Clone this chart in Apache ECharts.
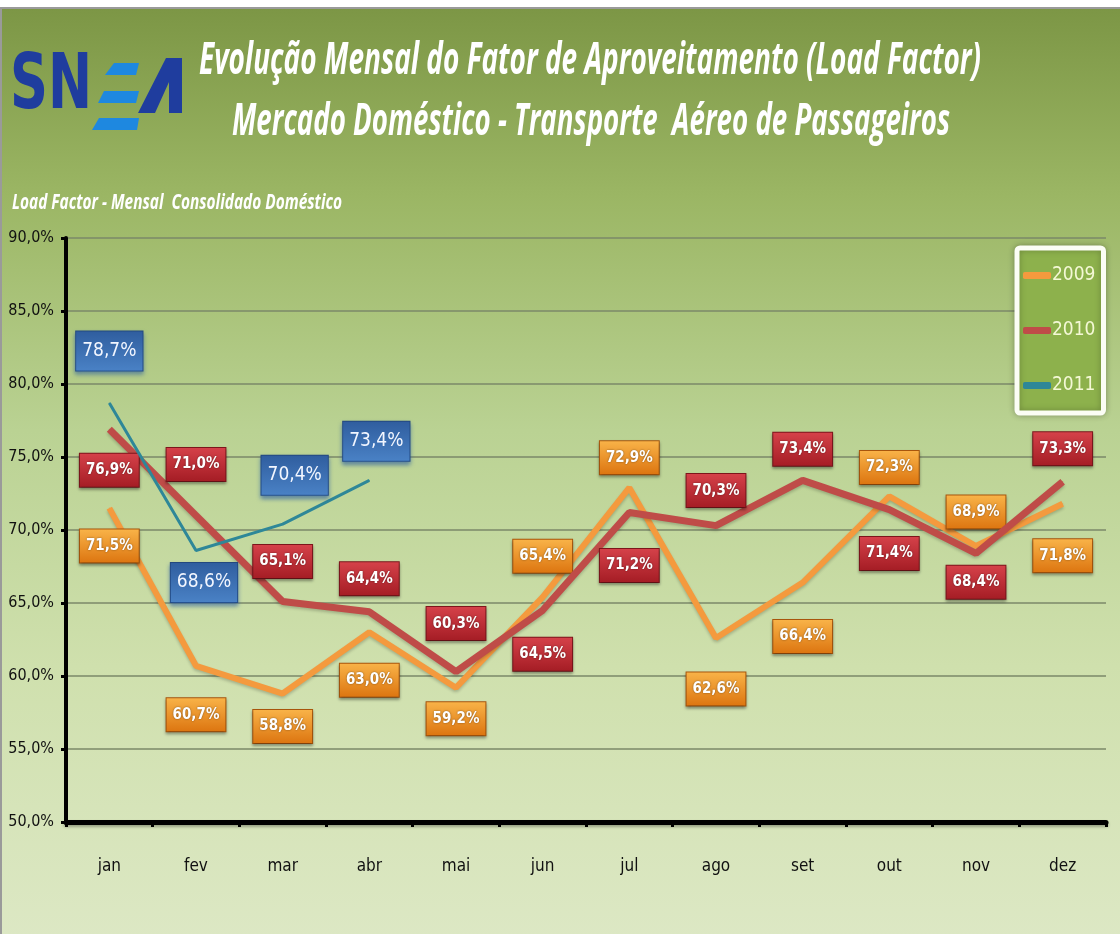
<!DOCTYPE html>
<html>
<head>
<meta charset="utf-8">
<script src="https://cdn.jsdelivr.net/npm/echarts@6/dist/echarts.min.js"></script>
<style>
html, body { margin: 0; padding: 0; background: #fff; }
#main { width: 1120px; height: 934px; }
</style>
</head>
<body>
<div id="main"></div>
<script>
var months = ['jan', 'fev', 'mar', 'abr', 'mai', 'jun', 'jul', 'ago', 'set', 'out', 'nov', 'dez'];
var lf2009 = [71.5, 60.7, 58.8, 63.0, 59.2, 65.4, 72.9, 62.6, 66.4, 72.3, 68.9, 71.8];
var lf2010 = [76.9, 71.0, 65.1, 64.4, 60.3, 64.5, 71.2, 70.3, 73.4, 71.4, 68.4, 73.3];
var lf2011 = [78.7, 68.6, 70.4, 73.4];
var yMin = 50, yMax = 90, yStep = 5;

// vertical offset of each value box from its point (style only)
var dy2009 = [38, 49, 33, 48, 31, -41, -30, 51, 54, -29, -34, 52];
var dy2010 = [41, -51, -40, -33, -48, 44, 53, -35, -31, 44, 29, -33];
var dy2011 = [-52, 32, -49, -39];
var dx2011 = [0, 8, 12, 7];

var narrow = '"Liberation Sans Narrow", "DejaVu Sans Condensed", Roboto, sans-serif';

function pct(v) { return v.toFixed(1).replace('.', ',') + '%'; }

function fitScale(text, font, width) {
    var ctx = document.createElement('canvas').getContext('2d');
    ctx.font = font;
    return width / ctx.measureText(text).width;
}

var title1 = 'Evolução Mensal do Fator de Aproveitamento (Load Factor)';
var title2 = 'Mercado Doméstico - Transporte  Aéreo de Passageiros';
var subTitle = 'Load Factor - Mensal  Consolidado Doméstico';
var tFont = 'italic bold 44px "Open Sans"';
var sFont = 'italic bold 21px "Open Sans"';
var logoFont = 'bold 76px "DejaVu Sans"';

function grad(c1, c2) {
    return new echarts.graphic.LinearGradient(0, 0, 0, 1, [
        { offset: 0, color: c1 }, { offset: 1, color: c2 }
    ]);
}

function boxLabel(kind) {
    if (kind === 2011) {
        return {
            show: true, position: 'inside', formatter: function (p) { return pct(p.value); },
            color: '#f2f6ff', fontSize: 19, fontFamily: narrow,
            backgroundColor: grad('#2f5d9e', '#4a82c6'),
            borderColor: '#23487e', borderWidth: 1, padding: [10, 6],
            shadowColor: 'rgba(40,90,160,0.6)', shadowBlur: 4, shadowOffsetY: 3
        };
    }
    var orange = kind === 2009;
    return {
        show: true, position: 'inside', formatter: function (p) { return pct(p.value); },
        color: '#fff', fontSize: 15, fontWeight: 'bold', fontFamily: narrow,
        textShadowColor: 'rgba(0,0,0,0.5)', textShadowBlur: 2,
        backgroundColor: orange ? grad('#f9b449', '#dc740f') : grad('#d6424a', '#a41c24'),
        borderColor: orange ? '#a9560c' : '#7e151b', borderWidth: 1, padding: [9, 6],
        shadowColor: 'rgba(0,0,0,0.35)', shadowBlur: 3, shadowOffsetY: 2
    };
}

function points(vals, dy, dx) {
    return vals.map(function (v, i) {
        return { value: v, label: { offset: [dx ? dx[i] : 0, dy[i]] } };
    });
}

var myChart = echarts.init(document.getElementById('main'));

var option = {
    animation: false,
    backgroundColor: '#fff',
    graphic: [
        {
            type: 'rect', z: -10, silent: true,
            shape: { x: 1, y: 8, width: 1130, height: 940 },
            style: {
                fill: new echarts.graphic.LinearGradient(0, 0, 0, 1, [
                    { offset: 0, color: '#7c9645' },
                    { offset: 0.2, color: '#9bb664' },
                    { offset: 0.45, color: '#bad293' },
                    { offset: 0.7, color: '#cfe0ad' },
                    { offset: 1, color: '#dde8c5' }
                ]),
                stroke: '#9a9a9a', lineWidth: 2
            }
        },
        {
            type: 'text', x: 590, y: 61, scaleX: fitScale(title1, tFont, 782),
            style: {
                text: title1, font: tFont, fill: '#fff', align: 'center', verticalAlign: 'middle',
                shadowColor: 'rgba(0,0,0,0.55)', shadowBlur: 3, shadowOffsetX: 2, shadowOffsetY: 2
            }
        },
        {
            type: 'text', x: 591, y: 122, scaleX: fitScale(title2, tFont, 718),
            style: {
                text: title2, font: tFont, fill: '#fff', align: 'center', verticalAlign: 'middle',
                shadowColor: 'rgba(0,0,0,0.55)', shadowBlur: 3, shadowOffsetX: 2, shadowOffsetY: 2
            }
        },
        {
            type: 'text', x: 12, y: 203, scaleX: fitScale(subTitle, sFont, 330),
            style: {
                text: subTitle, font: sFont, fill: '#fff', align: 'left', verticalAlign: 'middle',
                shadowColor: 'rgba(0,0,0,0.4)', shadowBlur: 2, shadowOffsetX: 1, shadowOffsetY: 1
            }
        },
        {
            type: 'text', x: 10, y: 88, scaleX: fitScale('SN', logoFont, 82),
            style: { text: 'SN', font: logoFont, fill: '#1f3d9e', align: 'left', verticalAlign: 'middle' }
        },
        { type: 'polygon', shape: { points: [[114, 63], [139, 63], [136, 75], [105, 75]] }, style: { fill: '#1e88e0' } },
        { type: 'polygon', shape: { points: [[104, 91], [139, 91], [136, 103], [98, 103]] }, style: { fill: '#1e88e0' } },
        { type: 'polygon', shape: { points: [[99, 118], [139, 118], [137, 130], [92, 130]] }, style: { fill: '#1e88e0' } },
        { type: 'polygon', shape: { points: [[138, 113], [166, 58], [182, 58], [182, 113], [169, 113], [169, 82], [155, 113]] }, style: { fill: '#1f3d9e' } }
    ],
    grid: { left: 66, right: 14, top: 238, bottom: 112 },
    legend: {
        data: ['2009', '2010', '2011'],
        orient: 'vertical',
        left: 1017, top: 248,
        backgroundColor: '#8db14c',
        borderColor: '#fbfdf5', borderWidth: 5, borderRadius: 3,
        padding: [18, 8, 18, 6],
        itemGap: 36, itemWidth: 28, itemHeight: 7,
        icon: 'roundRect',
        shadowColor: 'rgba(0,0,0,0.25)', shadowBlur: 6,
        textStyle: { color: '#f4f8d6', fontSize: 19, fontFamily: narrow, padding: [0, 0, 0, -4] }
    },
    xAxis: {
        type: 'category',
        data: months,
        boundaryGap: true,
        axisLine: { lineStyle: { color: '#000', width: 5, shadowColor: 'rgba(0,0,0,0.3)', shadowBlur: 3, shadowOffsetY: 2 } },
        axisTick: { show: true, interval: 0, length: 5, lineStyle: { color: '#000', width: 3 } },
        axisLabel: { margin: 36, color: '#111', fontSize: 17, fontFamily: narrow }
    },
    yAxis: {
        type: 'value',
        min: yMin, max: yMax, interval: yStep,
        axisLine: { show: true, lineStyle: { color: '#000', width: 4 } },
        axisTick: { show: true, length: 5, lineStyle: { color: '#000', width: 3 } },
        axisLabel: { margin: 12, color: '#111', fontSize: 16, fontFamily: narrow, formatter: pct },
        splitLine: { lineStyle: { color: '#7b8868', width: 1.5 } }
    },
    series: [
        {
            name: '2009', type: 'line', symbol: 'circle', symbolSize: 1, color: '#f49a3e', z: 3,
            lineStyle: { width: 6, shadowColor: 'rgba(0,0,0,0.2)', shadowBlur: 3, shadowOffsetY: 2 },
            label: boxLabel(2009),
            data: points(lf2009, dy2009)
        },
        {
            name: '2010', type: 'line', symbol: 'circle', symbolSize: 1, color: '#bf4c48', z: 4,
            lineStyle: { width: 7, shadowColor: 'rgba(0,0,0,0.2)', shadowBlur: 3, shadowOffsetY: 2 },
            label: boxLabel(2010),
            data: points(lf2010, dy2010)
        },
        {
            name: '2011', type: 'line', symbol: 'circle', symbolSize: 1, color: '#2e8798', z: 5,
            lineStyle: { width: 3 },
            label: boxLabel(2011),
            data: points(lf2011, dy2011, dx2011)
        }
    ]
};

myChart.setOption(option);

window.onresize = function () {
    myChart.resize();
};
</script>
</body>
</html>
